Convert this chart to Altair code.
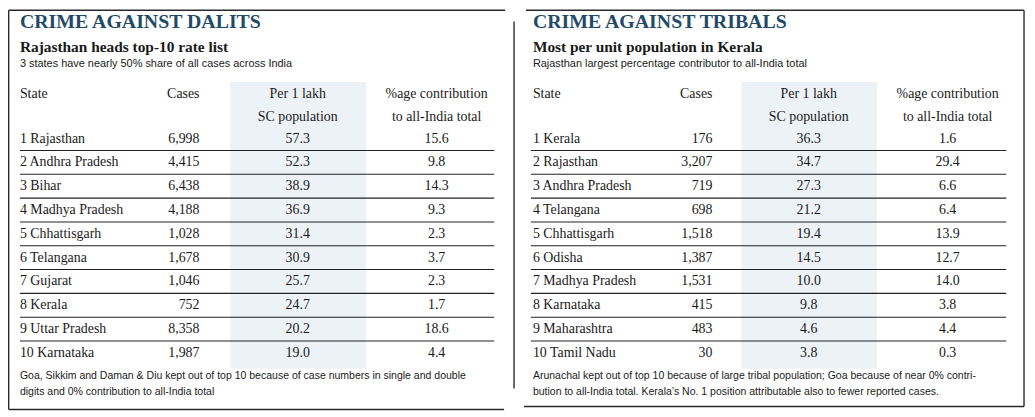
import altair as alt
import pandas as pd

# ---------------- data ----------------
dalit_states = ["Rajasthan", "Andhra Pradesh", "Bihar", "Madhya Pradesh", "Chhattisgarh",
                "Telangana", "Gujarat", "Kerala", "Uttar Pradesh", "Karnataka"]
dalit_cases = [6998, 4415, 6438, 4188, 1028, 1678, 1046, 752, 8358, 1987]
dalit_rate = [57.3, 52.3, 38.9, 36.9, 31.4, 30.9, 25.7, 24.7, 20.2, 19.0]
dalit_share = [15.6, 9.8, 14.3, 9.3, 2.3, 3.7, 2.3, 1.7, 18.6, 4.4]

tribal_states = ["Kerala", "Rajasthan", "Andhra Pradesh", "Telangana", "Chhattisgarh",
                 "Odisha", "Madhya Pradesh", "Karnataka", "Maharashtra", "Tamil Nadu"]
tribal_cases = [176, 3207, 719, 698, 1518, 1387, 1531, 415, 483, 30]
tribal_rate = [36.3, 34.7, 27.3, 21.2, 19.4, 14.5, 10.0, 9.8, 4.6, 3.8]
tribal_share = [1.6, 29.4, 6.6, 6.4, 13.9, 12.7, 14.0, 3.8, 4.4, 0.3]

dalit_title = "CRIME AGAINST DALITS"
dalit_sub = "Rajasthan heads top-10 rate list"
dalit_sub2 = "3 states have nearly 50% share of all cases across India"
dalit_note = ["Goa, Sikkim and Daman & Diu kept out of top 10 because of case numbers in single and double",
              "digits and 0% contribution to all-India total"]

tribal_title = "CRIME AGAINST TRIBALS"
tribal_sub = "Most per unit population in Kerala"
tribal_sub2 = "Rajasthan largest percentage contributor to all-India total"
tribal_note = ["Arunachal kept out of top 10 because of large tribal population; Goa because of near 0% contri-",
               "bution to all-India total. Kerala\u2019s No. 1 position attributable also to fewer reported cases."]

SERIF = "Liberation Serif"
SANS = "Liberation Sans"
TITLE_COLOR = "#1f4b69"
SHADE = "#edf2f7"
INK = "#1a1a1a"
BODY = 14

W, H = 1027, 409
yscale = alt.Scale(domain=[1 - 130 / 24, 1 + (H - 130) / 24], range=[0, H], nice=False, zero=False)


def make_df(states, cases, rate, share):
    return pd.DataFrame({
        "rank": list(range(1, len(states) + 1)),
        "label": [f"{i + 1} {s}" for i, s in enumerate(states)],
        "cases": cases,
        "rate": rate,
        "share": share,
    })


def txt(x, y, s, size=BODY, font=SERIF, color=INK, align="left", weight="normal"):
    return alt.Chart(pd.DataFrame({"t": [s]})).mark_text(
        align=align, baseline="middle", font=font, fontSize=size, color=color, fontWeight=weight
    ).encode(x=alt.value(x), y=alt.value(y), text="t:N")


def panel(df, x0, title, sub, sub2, note, cols, line_x):
    c_state, c_cases, c_rate, c_share = cols
    layers = []
    # shaded column
    layers.append(alt.Chart(pd.DataFrame({"a": [0]})).mark_rect(color=SHADE).encode(
        x=alt.value(x0 + c_rate - 68), x2=alt.value(x0 + c_rate + 69),
        y=alt.value(73), y2=alt.value(362)))
    # separators between rows
    layers.append(alt.Chart(df[df["rank"] < len(df)]).transform_calculate(sep="datum.rank + 0.5")
                  .mark_rule(color="#222", strokeWidth=1.1).encode(
        y=alt.Y("sep:Q", scale=yscale, axis=None),
        x=alt.value(x0 + line_x[0]), x2=alt.value(x0 + line_x[1])))
    base = alt.Chart(df)
    ych = alt.Y("rank:Q", scale=yscale, axis=None)
    layers.append(base.mark_text(align="left", baseline="middle", font=SERIF, fontSize=BODY, color=INK).encode(
        x=alt.value(x0 + c_state), y=ych, text="label:N"))
    layers.append(base.mark_text(align="right", baseline="middle", font=SERIF, fontSize=BODY, color=INK).encode(
        x=alt.value(x0 + c_cases), y=ych, text=alt.Text("cases:Q", format=",")))
    layers.append(base.mark_text(align="center", baseline="middle", font=SERIF, fontSize=BODY, color=INK).encode(
        x=alt.value(x0 + c_rate), y=ych, text=alt.Text("rate:Q", format=".1f")))
    layers.append(base.mark_text(align="center", baseline="middle", font=SERIF, fontSize=BODY, color=INK).encode(
        x=alt.value(x0 + c_share), y=ych, text=alt.Text("share:Q", format=".1f")))
    # headers
    layers += [
        txt(x0 + c_state, 85, "State"),
        txt(x0 + c_cases, 85, "Cases", align="right"),
        txt(x0 + c_rate, 85, "Per 1 lakh", align="center"),
        txt(x0 + c_rate, 108, "SC population", align="center"),
        txt(x0 + c_share, 85, "%age contribution", align="center"),
        txt(x0 + c_share, 108, "to all-India total", align="center"),
    ]
    # titles and notes
    layers += [
        txt(x0 + c_state, 13, title, size=20, color=TITLE_COLOR, weight="bold"),
        txt(x0 + c_state, 38, sub, size=15.5, weight="bold"),
        txt(x0 + c_state, 55, sub2, size=11, font=SANS),
        txt(x0 + c_state, 369, note[0], size=10.6, font=SANS),
        txt(x0 + c_state, 385, note[1], size=10.6, font=SANS),
    ]
    return layers


dalits = make_df(dalit_states, dalit_cases, dalit_rate, dalit_share)
tribals = make_df(tribal_states, tribal_cases, tribal_rate, tribal_share)

left = panel(dalits, 0, dalit_title, dalit_sub, dalit_sub2, dalit_note,
             (12, 193, 292, 432), (12, 490))
right = panel(tribals, 517, tribal_title, tribal_sub, tribal_sub2, tribal_note,
              (12, 193, 290, 430), (10, 489))


def rule(x, x2, y, y2, w=1.4):
    return alt.Chart(pd.DataFrame({"a": [0]})).mark_rule(color="#2a2a2a", strokeWidth=w).encode(
        x=alt.value(x), x2=alt.value(x2), y=alt.value(y), y2=alt.value(y2))


frame = [
    rule(0.7, 501, 0.7, 0.7),       # left top
    rule(0.7, 0.7, 0.7, 403),       # left side
    rule(0.7, 500, 403, 403),       # left bottom
    rule(510, 510, 12, 382),        # divider
    rule(522, 1024, 0.7, 0.7),      # right top
    rule(1024, 1024, 0.7, 400),     # right side
    rule(520, 1024, 400, 400),      # right bottom
]

chart = alt.layer(*left, *right, *frame).properties(
    width=W, height=H, padding=0, autosize=alt.AutoSizeParams(type="none"),
    background="white"
).configure_view(stroke=None)

chart.save("out.html", embed_options={"renderer": "svg", "actions": False})
